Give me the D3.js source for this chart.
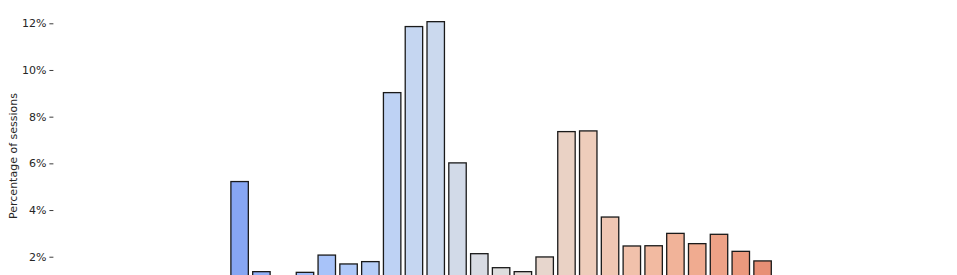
<!DOCTYPE html>
<html>
<head>
<meta charset="utf-8">
<script src="https://cdn.jsdelivr.net/npm/d3@7"></script>
<style>
  body { margin: 0; background: #fff; }
  svg { display: block; font-family: "DejaVu Sans", sans-serif; }
</style>
</head>
<body>
<svg id="chart" width="957" height="275"></svg>
<script>
// 41 categories, most of the outer ones are too small to show above the crop
let categories = d3.range(41).map(d => String(d));
let shares = [
    0.15, 0.15, 0.15, 0.15, 0.15, 0.15, 0.15, 0.15,
    5.22, 1.36, 0.9, 1.33, 2.07, 1.69, 1.79, 9.03, 11.86, 12.07, 6.02,
    2.13, 1.53, 1.36, 1.99, 7.36, 7.39, 3.70, 2.46, 2.47, 3.00, 2.56,
    2.96, 2.23, 1.82,
    0.15, 0.15, 0.15, 0.15, 0.15, 0.15, 0.15, 0.15
];
let yTicks = [2, 4, 6, 8, 10, 12];

// matplotlib coolwarm (Moreland) stops
let coolwarm = ["#3b4cc0","#445acc","#4d68d7","#5775e1","#6282ea","#6c8ef1","#779af7","#82a5fb",
    "#8db0fe","#98b9ff","#a3c2ff","#aec9fd","#b8d0f9","#c2d5f4","#ccd9ee","#d5dbe6","#dddddd",
    "#e5d8d1","#ecd3c5","#f1ccb9","#f5c4ad","#f7bba0","#f7b194","#f7a687","#f49a7b","#f18d6f",
    "#ec7f63","#e57058","#de604d","#d55042","#cb3e38","#c0282f","#b40426"];
let cmap = d3.scaleLinear()
    .domain(coolwarm.map((c, i) => i / (coolwarm.length - 1)))
    .range(coolwarm)
    .interpolate(d3.interpolateRgb);

function desaturate(c, prop){
    let h = d3.hsl(c);
    h.s = h.s * prop;
    return h.formatHex();
}

let palette = categories.map((c, i) => desaturate(cmap((i + 1) / (categories.length + 1)), 0.88));
let colorScale = d3.scaleOrdinal().domain(categories).range(palette);

let svg = d3.select("#chart");
let left = 54.4, step = 21.79;

let x = d3.scaleBand()
    .domain(categories)
    .range([left, left + step * categories.length])
    .paddingInner(0.2)
    .paddingOuter(0.1);

let y = d3.scaleLinear()
    .domain([0, 12])
    .range([303.4, 23.3]);

// y axis: labels and short ticks, no spine
let yAxis = svg.append("g")
    .attr("transform", "translate(" + (left - 1) + ",0)")
    .call(d3.axisLeft(y).tickValues(yTicks).tickSize(4).tickPadding(3)
        .tickFormat(d => d + "%"));
yAxis.select(".domain").remove();
yAxis.selectAll("line").attr("stroke", "#262626").attr("stroke-width", 0.9);
yAxis.selectAll("text")
    .attr("fill", "#262626")
    .style("font-size", "11px")
    .style("font-family", "DejaVu Sans");

svg.append("text")
    .attr("transform", "translate(17,156) rotate(-90)")
    .attr("text-anchor", "middle")
    .attr("fill", "#262626")
    .style("font-size", "11px")
    .text("Percentage of sessions");

svg.append("g").selectAll("rect")
    .data(shares)
    .enter().append("rect")
    .attr("x", (d, i) => x(categories[i]))
    .attr("y", d => y(d))
    .attr("width", x.bandwidth())
    .attr("height", d => y(0) - y(d))
    .attr("fill", (d, i) => colorScale(categories[i]))
    .attr("stroke", "#1a1a1a")
    .attr("stroke-width", 1.3);
</script>
</body>
</html>
